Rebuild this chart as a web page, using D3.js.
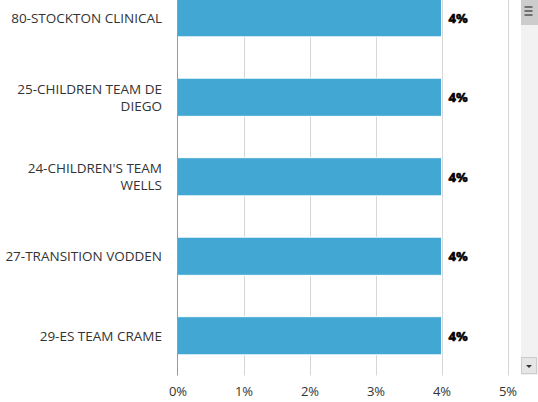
<!DOCTYPE html>
<html>
<head>
<meta charset="utf-8">
<script src="https://cdn.jsdelivr.net/npm/d3@7"></script>
<style>
html,body{margin:0;padding:0;background:#fff;}
svg{display:block;font-family:"Open Sans",sans-serif;}
</style>
</head>
<body>
<svg id="chart" width="538" height="402"></svg>
<script>
const categories = [
  ["80-STOCKTON CLINICAL"],
  ["25-CHILDREN TEAM DE", "DIEGO"],
  ["24-CHILDREN'S TEAM", "WELLS"],
  ["27-TRANSITION VODDEN"],
  ["29-ES TEAM CRAME"]
];
const values = [4, 4, 4, 4, 4];
const tickValues = [0, 1, 2, 3, 4, 5];
const tickLabels = ["0%", "1%", "2%", "3%", "4%", "5%"];

const W = 538, H = 402;
const plot = {left: 177.5, right: 507.5, top: -22, bottom: 375.5};
const svg = d3.select("#chart");

const x = d3.scaleLinear().domain([0, 5]).range([plot.left, plot.right]);
const y = d3.scaleBand().domain(d3.range(categories.length))
  .range([plot.top, plot.bottom]).paddingInner(0.52).paddingOuter(0.26);

// gridlines
svg.append("g").selectAll("line").data(tickValues.slice(1)).join("line")
  .attr("x1", d => Math.round(x(d)) + 0.5).attr("x2", d => Math.round(x(d)) + 0.5)
  .attr("y1", 0).attr("y2", plot.bottom)
  .attr("stroke", "#d6d6d6").attr("stroke-width", 1);

// bars
svg.append("g").selectAll("rect").data(values).join("rect")
  .attr("x", x(0))
  .attr("y", (d, i) => y(i))
  .attr("width", d => x(d) - x(0))
  .attr("height", y.bandwidth())
  .attr("fill", "#42a8d3")
  .attr("stroke", "#ffffff").attr("stroke-width", 1);

// axis line
svg.append("line").attr("x1", plot.left).attr("x2", plot.left)
  .attr("y1", 0).attr("y2", plot.bottom)
  .attr("stroke", "#999999").attr("stroke-width", 1);

// x-axis labels via d3 axis
const xAxis = d3.axisBottom(x).tickValues(tickValues)
  .tickFormat((d, i) => tickLabels[i]).tickSize(0).tickPadding(0);
const gx = svg.append("g").attr("transform", `translate(0,${plot.bottom})`).call(xAxis);
gx.select(".domain").remove();
gx.selectAll("text").attr("font-family", "Open Sans, sans-serif")
  .attr("font-size", 13).attr("fill", "#333333").attr("dy", 0).attr("y", 20.5);

// category labels
const lab = svg.append("g").selectAll("text").data(categories).join("text")
  .attr("text-anchor", "end").attr("font-size", 13.5).attr("fill", "#333333")
  .attr("x", 162)
  .attr("y", (d, i) => y(i) + y.bandwidth() / 2 - (d.length - 1) * 8.5 + 5);
lab.selectAll("tspan").data(d => d).join("tspan")
  .attr("x", 162).attr("dy", (d, i) => i === 0 ? 0 : 17).text(d => d);

// data labels
svg.append("g").selectAll("text").data(values).join("text")
  .attr("x", d => x(d) + 7)
  .attr("y", (d, i) => y(i) + y.bandwidth() / 2 + 5)
  .attr("font-size", 13).attr("font-weight", "bold").attr("fill", "#000")
  .attr("stroke", "#000").attr("stroke-width", 0.6)
  .text(d => d + "%");

// scrollbar
const sb = svg.append("g");
sb.append("rect").attr("x", 521).attr("y", 0).attr("width", 17).attr("height", 375).attr("fill", "#f2f2f2");
sb.append("rect").attr("x", 521).attr("y", 0).attr("width", 17).attr("height", 25).attr("fill", "#cccccc");
[7, 11, 15].forEach(yy => sb.append("line").attr("x1", 524.5).attr("x2", 532.5)
  .attr("y1", yy).attr("y2", yy).attr("stroke", "#333").attr("stroke-width", 1.2));
sb.append("rect").attr("x", 521.5).attr("y", 357.5).attr("width", 15).attr("height", 16)
  .attr("fill", "#e6e6e6").attr("stroke", "#cccccc");
sb.append("path").attr("d", "M526,365 L532,365 L529,368 Z").attr("fill", "#333");
</script>
</body>
</html>
